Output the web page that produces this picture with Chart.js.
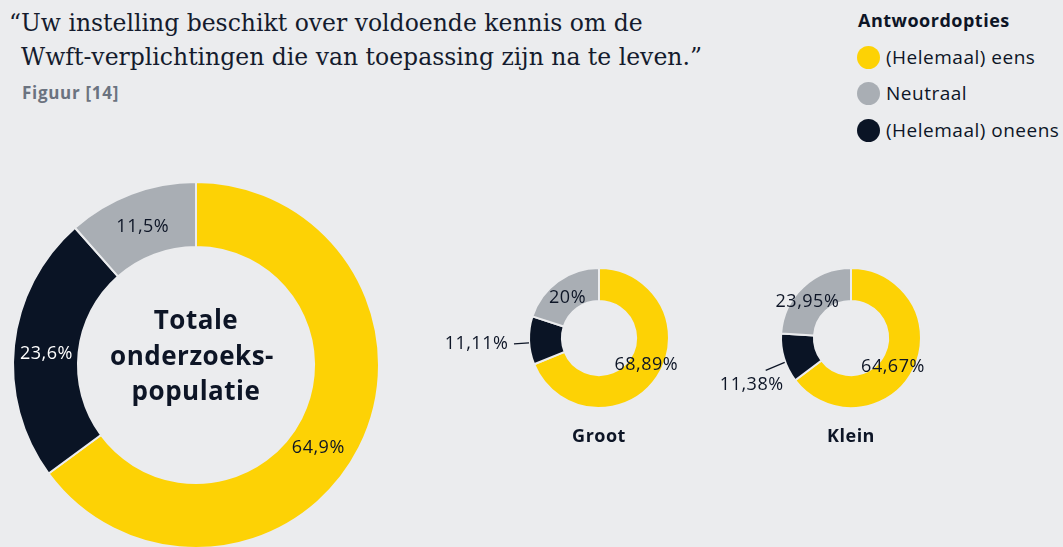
<!DOCTYPE html>
<html>
<head>
<meta charset="utf-8">
<script src="https://cdn.jsdelivr.net/npm/chart.js@4.4.1/dist/chart.umd.min.js"></script>
<style>
  body { margin: 0; background: #ebecee; }
  #page { position: relative; width: 1063px; height: 547px; overflow: hidden; background: #ebecee;
          font-family: "Open Sans", "Noto Sans", sans-serif; color: #0d1526; }
  .quote { position: absolute; font-family: "DejaVu Serif", serif; font-size: 23.5px; line-height: 30px; color: #141b2d; white-space: nowrap; }
  #fig { position: absolute; left: 22px; top: 83px; line-height: 20px; font-weight: bold; font-size: 17px; letter-spacing: 0.7px; color: #6b7380; }
  #legendTitle { position: absolute; left: 858px; top: 10px; line-height: 20px; font-weight: bold; font-size: 18px; letter-spacing: 0.5px; }
  .item { position: absolute; left: 857px; font-size: 19px; letter-spacing: 0.5px; line-height: 23px; white-space: nowrap; }
  .dot { display: inline-block; width: 23px; height: 23px; border-radius: 50%; vertical-align: top; margin-right: 6px; }
  canvas { position: absolute; }
</style>
</head>
<body>
<div id="page">
  <div class="quote" style="left:9px; top:8px;">“Uw instelling beschikt over voldoende kennis om de</div>
  <div class="quote" style="left:21px; top:42px;">Wwft-verplichtingen die van toepassing zijn na te leven.”</div>
  <div id="fig">Figuur [14]</div>
  <div id="legendTitle">Antwoordopties</div>
  <div id="legend"></div>
  <canvas id="totaal" width="400" height="400" style="left:-4px; top:165px;"></canvas>
  <canvas id="groot" width="320" height="220" style="left:439px; top:228px;"></canvas>
  <canvas id="klein" width="320" height="220" style="left:691px; top:228px;"></canvas>
</div>
<script>
// segment order in the doughnuts (clockwise from the top)
var segments = ['(Helemaal) eens', '(Helemaal) oneens', 'Neutraal'];
var segmentColors = ['#fdd205', '#0a1425', '#a9aeb4'];
// legend order
var legendItems = ['(Helemaal) eens', 'Neutraal', '(Helemaal) oneens'];

var totaal = [64.9, 23.6, 11.5];
var groot = [68.89, 11.11, 20];
var klein = [64.67, 11.38, 23.95];

function pct(v) { return String(v).replace('.', ',') + '%'; }

// legend
var legendEl = document.getElementById('legend');
legendItems.forEach(function (name, i) {
  var d = document.createElement('div');
  d.className = 'item';
  d.style.top = (45.5 + i * 36.5) + 'px';
  d.innerHTML = '<span class="dot" style="background:' + segmentColors[segments.indexOf(name)] + '"></span>' + name;
  legendEl.appendChild(d);
});

var sliceLabels = {
  id: 'sliceLabels',
  afterDatasetsDraw: function (chart, args, opts) {
    var ctx = chart.ctx;
    var meta = chart.getDatasetMeta(0);
    var values = chart.data.datasets[0].data;
    ctx.save();
    ctx.textAlign = 'center';
    ctx.textBaseline = 'middle';
    ctx.letterSpacing = '0.5px';
    ctx.font = opts.font;
    meta.data.forEach(function (arc, i) {
      var p = arc.tooltipPosition();
      var off = opts.offsets[i] || [0, 0];
      ctx.fillStyle = (opts.colors && opts.colors[i]) || '#0d1526';
      ctx.fillText(pct(values[i]), p.x + off[0], p.y + off[1]);
      var l = opts.leaders && opts.leaders[i];
      if (l) {
        ctx.strokeStyle = '#0d1526';
        ctx.lineWidth = 1.3;
        ctx.beginPath();
        ctx.moveTo(p.x + l[0], p.y + l[1]);
        ctx.lineTo(p.x + l[2], p.y + l[3]);
        ctx.stroke();
      }
    });
    var c = meta.data[0];
    ctx.fillStyle = '#0d1526';
    if (opts.center) {
      ctx.font = opts.centerFont;
      opts.center.forEach(function (t, k) {
        ctx.fillText(t, c.x + (opts.centerShift[k] || 0), c.y - 43 + k * 35.5);
      });
    }
    if (opts.caption) {
      ctx.font = opts.captionFont;
      ctx.fillText(opts.caption, c.x, c.y + 99);
    }
    ctx.restore();
  }
};

function makeChart(id, values, radius, cutout, labelOpts) {
  return new Chart(document.getElementById(id), {
    type: 'doughnut',
    data: {
      labels: segments,
      datasets: [{
        data: values,
        backgroundColor: segmentColors,
        borderColor: '#ebecee',
        borderWidth: 2
      }]
    },
    options: {
      responsive: false,
      animation: false,
      events: [],
      radius: radius,
      cutout: cutout,
      layout: { padding: 0 },
      plugins: {
        legend: { display: false },
        tooltip: { enabled: false },
        sliceLabels: labelOpts
      }
    },
    plugins: [sliceLabels]
  });
}

var labelFont = '18px "Open Sans", "Noto Sans", sans-serif';

makeChart('totaal', totaal, 183, '64.5%', {
  font: labelFont,
  offsets: [[-12, 15], [0, 5], [0, 3]],
  colors: ['#0d1526', '#ffffff', '#0d1526'],
  center: ['Totale', 'onderzoeks-', 'populatie'],
  centerShift: [0, -4, 0],
  centerFont: 'bold 26px "Open Sans", "Noto Sans", sans-serif'
});

makeChart('groot', groot, 70, '53%', {
  font: labelFont,
  offsets: [[3, -3], [-69, 4], [0, 3]],
  leaders: [null, [-16.5, 3, -31.5, 4], null],
  caption: 'Groot',
  captionFont: 'bold 18px "Open Sans", "Noto Sans", sans-serif'
});

makeChart('klein', klein, 70, '53%', {
  font: labelFont,
  offsets: [[-6, 5], [-48, 31], [-7, 3]],
  leaders: [null, [-15, 9, -34, 17], null],
  caption: 'Klein',
  captionFont: 'bold 18px "Open Sans", "Noto Sans", sans-serif'
});
</script>
</body>
</html>
